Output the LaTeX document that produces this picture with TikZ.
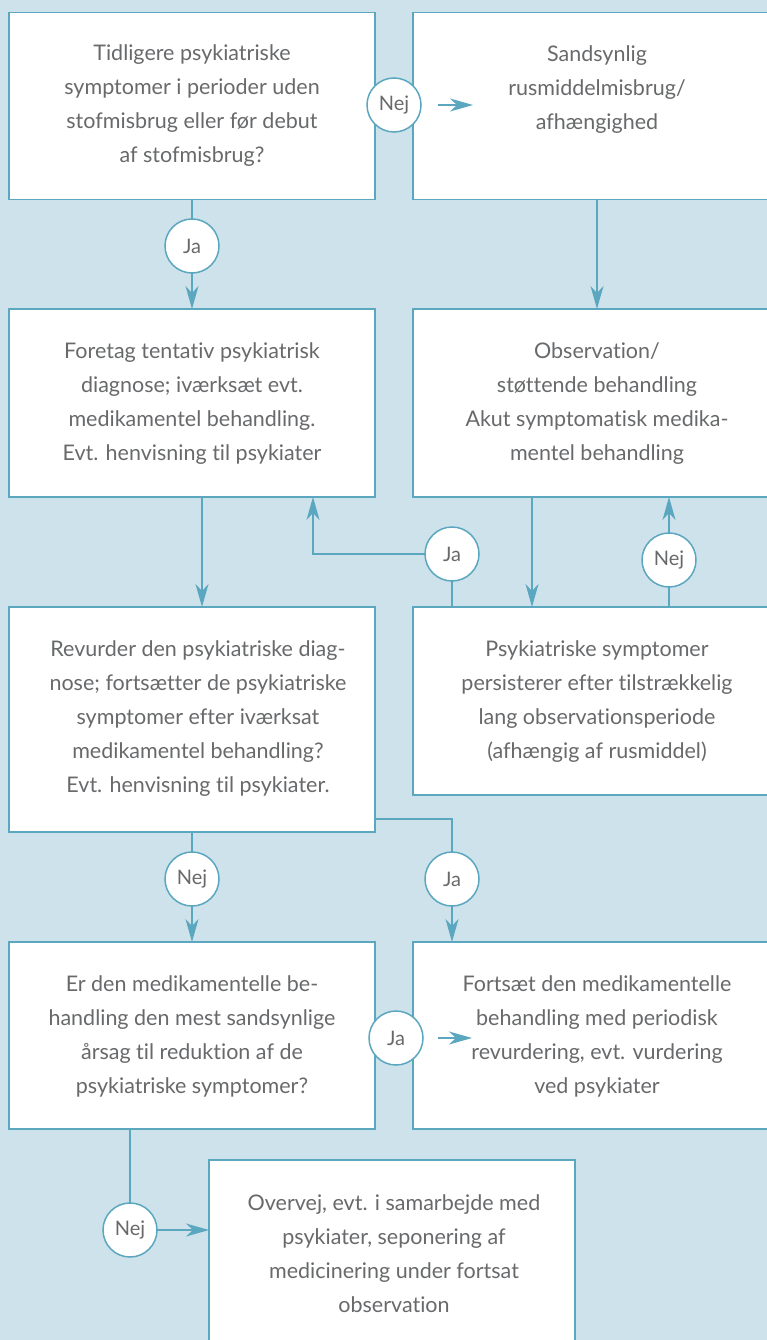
\documentclass[tikz,border=0pt]{standalone}
\usepackage{fontspec}
\setmainfont{Lato}[Ligatures=NoCommon]
\usetikzlibrary{arrows.meta}
\definecolor{bgc}{HTML}{CDE2EB}
\definecolor{tealc}{HTML}{5BA7BF}
\definecolor{txtc}{HTML}{68696B}
\tikzset{
  box/.style={draw=tealc, fill=white, line width=1.5pt, inner sep=0pt, outer sep=0pt},
  dec/.style={circle, draw=tealc, fill=white, line width=1.5pt, minimum size=54pt, inner sep=0pt, outer sep=0pt, text=txtc, font=\fontsize{20pt}{22pt}\selectfont},
  txt/.style={align=center, text=txtc, inner sep=0pt, font=\fontsize{21.5pt}{34pt}\selectfont},
  con/.style={draw=tealc, line width=1.5pt},
  arr/.style={con, -{Stealth[length=23pt, width=13pt, inset=7pt]}}
}
\begin{document}
\begin{tikzpicture}[x=1pt, y=-1pt]
\useasboundingbox (0,0) rectangle (767,1340);
\clip (0,0) rectangle (767,1340);
\fill[bgc] (0,0) rectangle (767,1340);
% boxes
\node[box, minimum width=366pt, minimum height=187pt] (b1) at (192,106) {};
\node[box, minimum width=377pt, minimum height=187pt] (b2) at (601.5,106) {};
\node[box, minimum width=366pt, minimum height=188pt] (b3) at (192,403) {};
\node[box, minimum width=377pt, minimum height=188pt] (b4) at (601.5,403) {};
\node[box, minimum width=366pt, minimum height=225pt] (b5) at (192,719.5) {};
\node[box, minimum width=377pt, minimum height=188pt] (b6) at (601.5,701) {};
\node[box, minimum width=366pt, minimum height=187pt] (b7) at (192,1035.5) {};
\node[box, minimum width=377pt, minimum height=187pt] (b8) at (601.5,1035.5) {};
\node[box, minimum width=366pt, minimum height=200pt] (b9) at (392,1260) {};
% texts
\node[txt] (t1) at (192,106) {Tidligere psykiatriske\\symptomer i perioder uden\\stofmisbrug eller før debut\\af stofmisbrug?};
\node[txt] (t2) at (597,89.5) {Sandsynlig\\rusmiddelmisbrug/\\afhængighed};
\node[txt] (t3) at (192,404) {Foretag tentativ psykiatrisk\\diagnose; iværksæt evt.\\medikamentel behandling.\\Evt. henvisning til psykiater};
\node[txt] (t4) at (597,404) {Observation/\\støttende behandling\\Akut symptomatisk medika-\\mentel behandling};
\node[txt] (t5) at (198,719) {Revurder den psykiatriske diag-\\nose; fortsætter de psykiatriske\\symptomer efter iværksat\\medikamentel behandling?\\Evt. henvisning til psykiater.};
\node[txt] (t6) at (597,702) {Psykiatriske symptomer\\persisterer efter tilstrækkelig\\lang observationsperiode\\(afhængig af rusmiddel)};
\node[txt] (t7) at (192,1036) {Er den medikamentelle be-\\handling den mest sandsynlige\\årsag til reduktion af de\\psykiatriske symptomer?};
\node[txt] (t8) at (597,1036) {Fortsæt den medikamentelle\\behandling med periodisk\\revurdering, evt. vurdering\\ved psykiater};
\node[txt] (t9) at (394,1254) {Overvej, evt. i samarbejde med\\psykiater, seponering af\\medicinering under fortsat\\observation};
% decision circles
\node[dec] (c0) at (394,105) {Nej};
\node[dec] (c1) at (192,246) {Ja};
\node[dec] (c2) at (452,554) {Ja};
\node[dec] (c3) at (669,560) {Nej};
\node[dec] (c4) at (192,879) {Nej};
\node[dec] (c5) at (452,879) {Ja};
\node[dec] (c6) at (396,1038) {Ja};
\node[dec] (c7) at (130,1230) {Nej};
\coordinate (a0) at (473,105);
\coordinate (a6) at (472,1038);
% connectors
\draw[arr] ([xshift=17pt]c0.east) -- (a0);
\draw[con] (b1.south) -- (c1.north);
\draw[arr] (c1.south) -- (c1 |- b3.north);
\draw[arr] ([xshift=-4.5pt]b2.south) -- ([xshift=-4.5pt]b4.north);
\draw[arr] ([xshift=10pt]b3.south) -- ([xshift=10pt]b5.north);
\draw[con] (c2 |- b6.north) -- (c2.south);
\draw[arr] (c2.west) -| ([xshift=121pt]b3.south);
\draw[arr] ([xshift=-69.5pt]b4.south) -- ([xshift=-69.5pt]b6.north);
\draw[con] (c3 |- b6.north) -- (c3.south);
\draw[arr] (c3.north) -- (c3 |- b4.south);
\draw[con] (c4 |- b5.south) -- (c4.north);
\draw[arr] (c4.south) -- (c4 |- b7.north);
\draw[con] ([yshift=-99.5pt]b5.east) -| (c5.north);
\draw[arr] (c5.south) -- (c5 |- b8.north);
\draw[arr] ([xshift=15pt]c6.east) -- (a6);
\draw[con] (c7 |- b7.south) -- (c7.north);
\draw[arr] (c7.east) -- (c7 -| b9.west);
\end{tikzpicture}
\end{document}
